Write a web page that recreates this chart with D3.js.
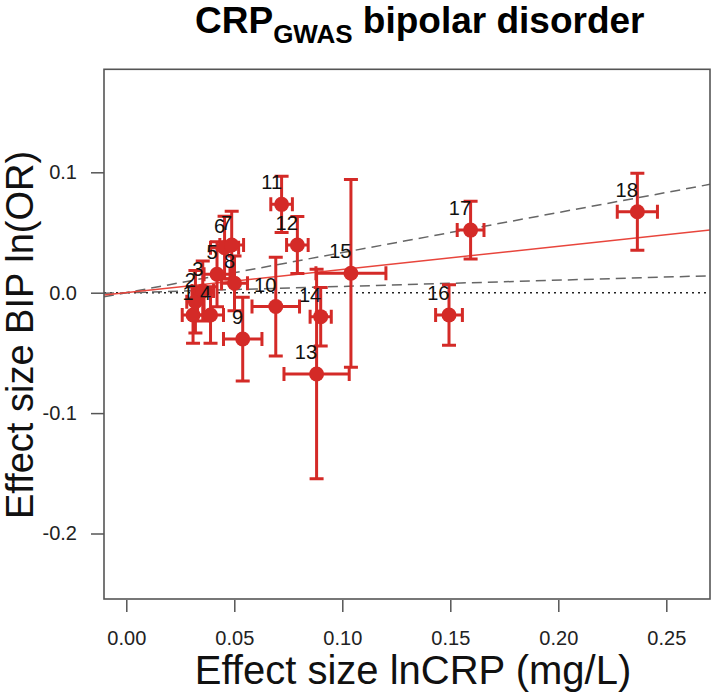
<!DOCTYPE html>
<html><head><meta charset="utf-8">
<script src="https://cdn.jsdelivr.net/npm/d3@7"></script>
<style>body{margin:0;background:#fff}svg{display:block}text{font-family:"Liberation Sans",Arial,sans-serif}</style>
</head><body><svg id="c" width="714" height="696"></svg>
<script>
const ids   = [1,2,3,4,5,6,7,8,9,10,11,12,13,14,15,16,17,18];
const bx    = [0.0309,0.0320,0.0354,0.0390,0.0420,0.0455,0.0488,0.0501,0.0539,0.0692,0.0719,0.0792,0.0881,0.0900,0.1040,0.1494,0.1594,0.2366];
const bxErr = [0.0050,0.0040,0.0050,0.0060,0.0060,0.0065,0.0055,0.0060,0.0089,0.0110,0.0050,0.0050,0.0151,0.0049,0.0162,0.0062,0.0062,0.0093];
const by    = [-0.0185,-0.0075,0.0014,-0.0185,0.0153,0.0374,0.0396,0.0078,-0.0385,-0.0115,0.0734,0.0396,-0.0675,-0.0199,0.0161,-0.0185,0.0520,0.0672];
const byErr = [0.0235,0.0260,0.0250,0.0235,0.0270,0.0260,0.0280,0.0227,0.0348,0.0410,0.0233,0.0237,0.0870,0.0243,0.0780,0.0252,0.0240,0.0320];
const slopeFit = 0.193, slopeLo = 0.052, slopeHi = 0.333;
const xTicks = [0,0.05,0.10,0.15,0.20,0.25];
const yTicks = [0.1,0.0,-0.1,-0.2];

const svg = d3.select("#c");
const L=104,R=710,T=69.3,B=599;
const x = d3.scaleLinear().domain([-0.01032,0.27023]).range([L,R]);
const y = d3.scaleLinear().domain([-0.2544,0.18555]).range([B,T]);
const red="#d42a27";

svg.append("clipPath").attr("id","pc").append("rect").attr("x",L).attr("y",T).attr("width",R-L).attr("height",B-T);
const g = svg.append("g").attr("clip-path","url(#pc)");
const x0=x.domain()[0], x1=x.domain()[1];
g.append("line").attr("x1",x(x0)).attr("x2",x(x1)).attr("y1",y(0)).attr("y2",y(0))
  .attr("stroke","#222").attr("stroke-width",1.4).attr("stroke-dasharray","2,4");
[slopeLo,slopeHi].forEach(s=>{
  g.append("line").attr("x1",x(x0)).attr("x2",x(x1)).attr("y1",y(s*x0)).attr("y2",y(s*x1))
   .attr("stroke","#666").attr("stroke-width",1.5).attr("stroke-dasharray","10,6");
});
g.append("line").attr("x1",x(x0)).attr("x2",x(x1)).attr("y1",y(slopeFit*x0)).attr("y2",y(slopeFit*x1))
  .attr("stroke","#e8453c").attr("stroke-width",1.5);

const cap=7;
const eb = g.append("g").attr("stroke",red).attr("stroke-width",3).attr("fill","none");
ids.forEach((id,i)=>{
  const cx=x(bx[i]), cy=y(by[i]);
  const yl=y(by[i]-byErr[i]), yh=y(by[i]+byErr[i]);
  const xl=x(bx[i]-bxErr[i]), xh=x(bx[i]+bxErr[i]);
  eb.append("path").attr("d",
    `M${cx},${yl}V${yh}M${cx-cap},${yl}H${cx+cap}M${cx-cap},${yh}H${cx+cap}`+
    `M${xl},${cy}H${xh}M${xl},${cy-cap}V${cy+cap}M${xh},${cy-cap}V${cy+cap}`);
});
g.append("g").selectAll("circle").data(ids).join("circle")
  .attr("cx",(d,i)=>x(bx[i])).attr("cy",(d,i)=>y(by[i])).attr("r",7.5).attr("fill",red);
svg.append("g").selectAll("text").data(ids).join("text")
  .attr("x",(d,i)=>x(bx[i])+0.5).attr("y",(d,i)=>y(by[i])-15)
  .attr("text-anchor","end").attr("font-size",20).attr("fill","#111").text(d=>d);

svg.append("rect").attr("x",L).attr("y",T).attr("width",R-L).attr("height",B-T)
  .attr("fill","none").attr("stroke","#555").attr("stroke-width",1.6);

const xa = svg.append("g").attr("transform",`translate(0,${B+1})`)
  .call(d3.axisBottom(x).tickValues(xTicks).tickFormat(d3.format(".2f")).tickSize(12).tickPadding(19));
const ya = svg.append("g").attr("transform",`translate(${L},0)`)
  .call(d3.axisLeft(y).tickValues(yTicks).tickFormat(d3.format(".1f")).tickSize(13).tickPadding(14));
[xa,ya].forEach(a=>{
  a.select(".domain").remove();
  a.selectAll(".tick line").attr("stroke","#555").attr("stroke-width",1.5);
  a.selectAll(".tick text").attr("font-size",20).attr("fill","#222")
   .attr("font-family","Liberation Sans, Arial, sans-serif");
});
ya.selectAll(".tick text").text(d=>d3.format(".1f")(d).replace("−","-"));
xa.selectAll(".tick text").text(d=>d3.format(".2f")(d).replace("−","-"));

svg.append("text").attr("x",413).attr("y",684).attr("text-anchor","middle")
  .attr("font-size",40).attr("fill","#111").text("Effect size lnCRP (mg/L)");
svg.append("text").attr("transform","translate(33,335) rotate(-90)").attr("text-anchor","middle")
  .attr("font-size",38).attr("fill","#111").text("Effect size BIP ln(OR)");
const t = svg.append("text").attr("x",195).attr("y",33).attr("font-weight","bold").attr("font-size",37).attr("fill","#000");
t.append("tspan").text("CRP");
t.append("tspan").attr("font-size",26).attr("dy",10).text("GWAS");
t.append("tspan").attr("dy",-10).text(" bipolar disorder");
</script></body></html>
